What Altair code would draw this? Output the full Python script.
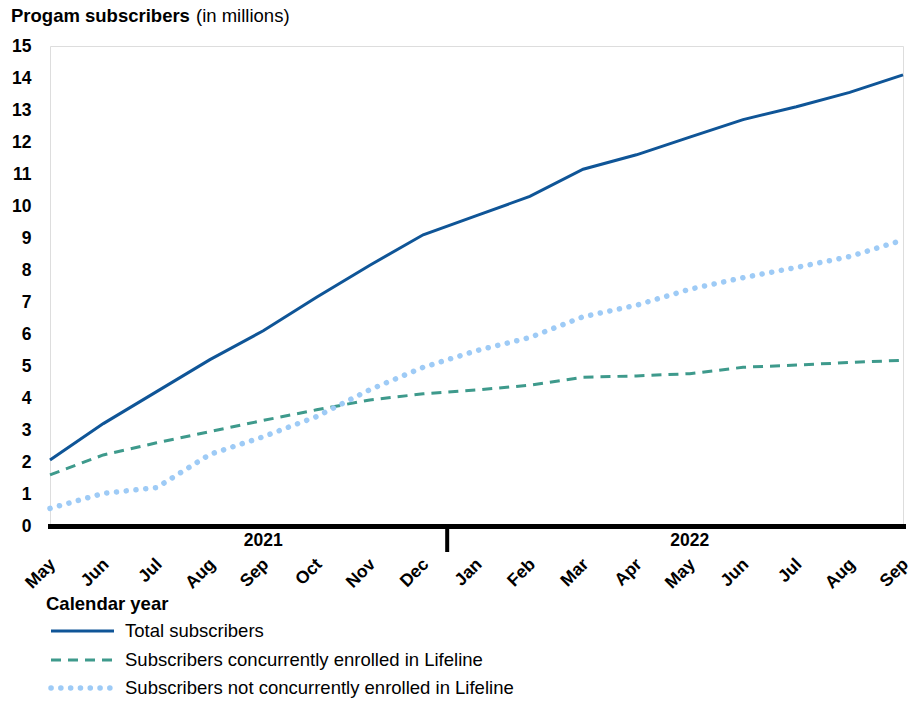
import altair as alt
import pandas as pd

# ---- data -------------------------------------------------------------
months = ["May", "Jun", "Jul", "Aug", "Sep", "Oct", "Nov", "Dec",
          "Jan", "Feb", "Mar", "Apr", "May", "Jun", "Jul", "Aug", "Sep"]
years = [2021] * 8 + [2022] * 9
periods = [f"{m} {y}" for m, y in zip(months, years)]

total = [2.06, 3.2, 4.2, 5.2, 6.1, 7.15, 8.15, 9.1, 9.7, 10.3, 11.15,
         11.6, 12.15, 12.7, 13.1, 13.55, 14.1]
concurrent = [1.6, 2.22, 2.6, 2.95, 3.3, 3.63, 3.94, 4.13, 4.25, 4.4, 4.65,
              4.69, 4.76, 4.96, 5.03, 5.11, 5.18]
not_concurrent = [0.55, 1.02, 1.2, 2.24, 2.79, 3.42, 4.26, 4.96, 5.48, 5.89,
                  6.54, 6.9, 7.4, 7.76, 8.08, 8.42, 8.94]

series_names = ["Total subscribers",
                "Subscribers concurrently enrolled in Lifeline",
                "Subscribers not concurrently enrolled in Lifeline"]
series_values = [total, concurrent, not_concurrent]

year_labels = ["2021", "2022"]
year_anchor = ["Sep 2021", "May 2022"]
divider_after = ["Dec 2021"]

title_bold = "Progam subscribers"
title_unit = "(in millions)"
x_title = "Calendar year"

# ---- styles -----------------------------------------------------------
FONT = "Liberation Sans"
styles = [
    dict(color="#0f5597", strokeWidth=3, strokeCap="butt"),
    dict(color="#3e9a8c", strokeWidth=3, strokeDash=[10, 7], strokeCap="butt"),
    dict(color="#9ecbf6", strokeWidth=5.5, strokeDash=[0.1, 9.7], strokeCap="round"),
]

W, H = 853, 480
xscale = alt.Scale(type="point", domain=periods, padding=0)
yscale = alt.Scale(domain=[0, 15], nice=False)

x_enc = alt.X(
    "period:O", scale=xscale, title=None,
    axis=alt.Axis(
        labelExpr="split(datum.value, ' ')[0]",
        labelAngle=-45, labelFontWeight="bold", labelFontSize=17.5,
        labelFont=FONT, labelColor="black", labelPadding=29, labelOffset=-4,
        labelOverlap=False, ticks=False, tickSize=0,
        domain=True, domainColor="black", domainWidth=5, domainCap="square",
        grid=False,
    ),
)
y_enc = alt.Y(
    "value:Q", scale=yscale, title=None,
    axis=alt.Axis(
        values=list(range(0, 16)), labelFontWeight="bold", labelFontSize=17.5,
        labelFont=FONT, labelColor="black", labelPadding=19,
        ticks=False, tickSize=0, domain=False, grid=False,
    ),
)

layers = []
for name, vals, st in zip(series_names, series_values, styles):
    df = pd.DataFrame({"period": periods, "value": vals, "series": name})
    layers.append(
        alt.Chart(df).mark_line(**st).encode(x=x_enc, y=y_enc)
    )

# year labels under the baseline
year_df = pd.DataFrame({"period": year_anchor, "label": year_labels})
layers.append(
    alt.Chart(year_df).mark_text(
        font=FONT, fontSize=17.5, fontWeight="bold", color="black",
        baseline="middle", align="center"
    ).encode(x=alt.X("period:O", scale=xscale), y=alt.value(H + 15),
             text="label:N")
)

# divider between years
div_df = pd.DataFrame({"period": divider_after})
layers.append(
    alt.Chart(div_df).mark_rule(color="black", strokeWidth=4, xOffset=24).encode(
        x=alt.X("period:O", scale=xscale), y=alt.value(H), y2=alt.value(H + 26)
    )
)

# title (bold + normal part)
layers.append(
    alt.Chart(pd.DataFrame({"t": [title_bold]})).mark_text(
        font=FONT, fontSize=18.5, fontWeight="bold", color="black",
        align="left", baseline="alphabetic"
    ).encode(x=alt.value(-39), y=alt.value(-24), text="t:N")
)
layers.append(
    alt.Chart(pd.DataFrame({"t": [title_unit]})).mark_text(
        font=FONT, fontSize=18.5, color="black", align="left",
        baseline="alphabetic"
    ).encode(x=alt.value(146), y=alt.value(-24), text="t:N")
)

# x title
layers.append(
    alt.Chart(pd.DataFrame({"t": [x_title]})).mark_text(
        font=FONT, fontSize=18.5, fontWeight="bold", color="black",
        align="left", baseline="middle"
    ).encode(x=alt.value(-4), y=alt.value(558), text="t:N")
)

# legend
legend_y = [585, 614, 642]
for name, st, ly in zip(series_names, styles, legend_y):
    layers.append(
        alt.Chart(pd.DataFrame({"t": [name]})).mark_rule(**st).encode(
            x=alt.value(1), x2=alt.value(64), y=alt.value(ly)
        )
    )
    layers.append(
        alt.Chart(pd.DataFrame({"t": [name]})).mark_text(
            font=FONT, fontSize=18.5, color="black", align="left",
            baseline="middle"
        ).encode(x=alt.value(75), y=alt.value(ly), text="t:N")
    )

chart = alt.layer(*layers).properties(
    width=W, height=H,
    padding={"left": 42, "top": 38, "right": 10, "bottom": 176},
    autosize=alt.AutoSizeParams(type="none"),
).configure_view(stroke=None).configure(font=FONT, background="white")

chart.save("out.html", embed_options={"renderer": "svg", "actions": False})
